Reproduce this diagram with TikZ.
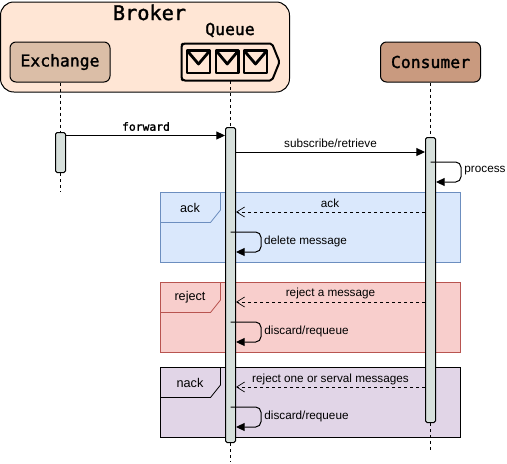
\documentclass[tikz,border=0pt]{standalone}
\usepackage{fontspec}
\setmainfont{Liberation Sans}
\newfontfamily\mono[FakeBold=1.6]{DejaVu Sans Mono}
\usetikzlibrary{arrows.meta,calc}
\definecolor{brokerfill}{HTML}{FFE6D5}
\definecolor{exfill}{HTML}{DBBEA7}
\definecolor{confill}{HTML}{C99A7F}
\definecolor{actfill}{HTML}{D7E0DC}
\definecolor{bluefill}{HTML}{DAE8FC}
\definecolor{bluedraw}{HTML}{6C8EBF}
\definecolor{redfill}{HTML}{F8CECC}
\definecolor{reddraw}{HTML}{B85450}
\definecolor{purplefill}{HTML}{E1D5E7}
\tikzset{
  x=0.75pt,y=-0.75pt,
  actor/.style={draw=black,line width=0.75pt,rounded corners=4.5pt,minimum width=75pt,minimum height=30pt,inner sep=0pt,font=\mono\fontsize{12.3}{14}\selectfont},
  activation/.style={draw=black,line width=0.75pt,fill=actfill,rounded corners=1.2pt,minimum width=7.5pt,inner sep=0pt,anchor=north},
  lifeline/.style={line width=0.75pt,dash pattern=on 2.25pt off 2.25pt},
  sync/.style={line width=0.75pt,-{Triangle[length=6.5pt,width=6pt]}},
  reply/.style={line width=0.6pt,dash pattern=on 2.25pt off 2.25pt,-{Straight Barb[length=6pt,width=7.5pt,line width=0.5pt]}},
  selfloop/.style={line width=0.75pt,rounded corners=4pt,-{Triangle[length=6.5pt,width=6pt]}},
  msg/.style={font=\fontsize{8.8}{10}\selectfont,inner sep=0pt,text=black},
  framelabel/.style={font=\fontsize{9.5}{11}\selectfont,inner sep=0pt,text=black},
  monolabel/.style={font=\mono\fontsize{8.5}{10}\selectfont,inner sep=0pt},
  env/.style={line width=2.1pt,line join=round},
}
\begin{document}
\begin{tikzpicture}
\useasboundingbox (0,0) rectangle (507,464);
% broker
\node[draw=black,line width=0.75pt,fill=brokerfill,rounded corners=10pt,minimum width=216.75pt,minimum height=67.5pt,inner sep=0pt] (broker) at (145,47) {};
\node[inner sep=0pt,font=\mono\fontsize{15.2}{18}\selectfont] (brokerlabel) at (149.5,12.5) {Broker};
\node[inner sep=0pt,font=\mono\fontsize{12.3}{14}\selectfont] (queuelabel) at (230,30) {Queue};
\node[actor,fill=exfill] (exchange) at (60,62) {Exchange};
\node[actor,fill=confill] (consumer) at (430.5,62) {Consumer};
% queue icon
\coordinate (queuebottom) at (230.5,81);
\draw[line width=1.5pt,line join=round,fill=brokerfill,rounded corners=1.5pt] (183,43.5) -- (272,43.5) -- (279.5,62) -- (272,80.5) -- (183,80.5) -- (181.5,79) -- (181.5,45) -- cycle;
\foreach \a/\b in {187/210,216/238.5,244/267}{
  \draw[env,fill=brokerfill] (\a,50.5) rectangle (\b,73);
  \draw[env] (\a,50.5) -- ({(\a+\b)/2},64) -- (\b,50.5);
}
% frames
\node[draw=bluedraw,fill=bluefill,line width=0.6pt,minimum width=225pt,minimum height=52.5pt,inner sep=0pt] (fack) at (310.5,227.5) {};
\node[draw=reddraw,fill=redfill,line width=0.6pt,minimum width=225pt,minimum height=52.5pt,inner sep=0pt] (freject) at (310.5,317.5) {};
\node[draw=black,fill=purplefill,line width=0.6pt,minimum width=225pt,minimum height=52.5pt,inner sep=0pt] (fnack) at (310.5,402.5) {};
\draw[bluedraw,line width=0.6pt] (220.5,192.5) -- (220.5,210) -- (210.5,222.5) -- (160.5,222.5);
\draw[reddraw,line width=0.6pt] (220.5,282.5) -- (220.5,300) -- (210.5,312.5) -- (160.5,312.5);
\draw[black,line width=0.6pt] (220.5,367.5) -- (220.5,385) -- (210.5,397.5) -- (160.5,397.5);
\node[framelabel] (lack) at (190,207.5) {ack};
\node[framelabel] (lreject) at (190,297.5) {reject};
\node[framelabel] (lnack) at (190,382.5) {nack};
% activations
\node[activation,minimum height=30pt] (aex) at (60.5,132) {};
\node[activation,minimum height=236.25pt] (aq) at (230.5,127) {};
\node[activation,minimum height=213.75pt] (ac) at (430.5,137) {};
% lifelines
\coordinate (endex) at (60.5,192);
\coordinate (endq) at (230.5,462);
\coordinate (endc) at (430.5,452);
\draw[lifeline] (exchange.south -| aex) -- (aex.north);
\draw[lifeline] (aex.south) -- (endex);
\draw[lifeline] (queuebottom) -- (aq.north);
\draw[lifeline] (aq.south) -- (endq);
\draw[lifeline] (consumer.south) -- (ac.north);
\draw[lifeline] (ac.south) -- (endc);
% messages
\draw[sync] (aex.east |- 0,135.5) -- (aq.west |- 0,135.5);
\node[monolabel] (lforward) at (146,126.5) {forward};
\draw[sync] (aq.east |- 0,152) -- (ac.west |- 0,152);
\node[msg] (lsub) at (330.5,143.5) {subscribe/retrieve};
\draw[selfloop] (ac.center |- 0,162) -- (461,162) -- (461,182) -- (ac.east |- 0,182);
\node[msg] (lproc) at (485,171) {process};
\draw[reply] (ac.west |- 0,212) -- (aq.east |- 0,212);
\node[msg] (lackm) at (330,203.5) {ack};
\draw[selfloop] (aq.center |- 0,232) -- (261,232) -- (261,252) -- (aq.east |- 0,252);
\node[msg] (ldel) at (305.5,241) {delete message};
\draw[reply] (ac.west |- 0,302) -- (aq.east |- 0,302);
\node[msg] (lrej) at (330.5,293.5) {reject a message};
\draw[selfloop] (aq.center |- 0,322) -- (261,322) -- (261,342) -- (aq.east |- 0,342);
\node[msg] (ldis) at (306.5,331) {discard/requeue};
\draw[reply] (ac.west |- 0,387) -- (aq.east |- 0,387);
\node[msg] (lone) at (330.5,379) {reject one or serval messages};
\draw[selfloop] (aq.center |- 0,407) -- (261,407) -- (261,427) -- (aq.east |- 0,427);
\node[msg] (ldis2) at (306.5,416) {discard/requeue};
\end{tikzpicture}
\end{document}
